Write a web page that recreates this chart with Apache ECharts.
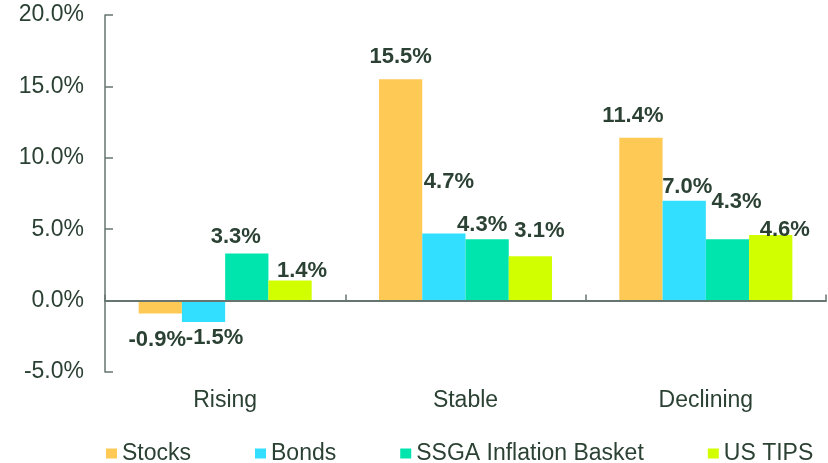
<!DOCTYPE html>
<html>
<head>
<meta charset="utf-8">
<script src="https://cdn.jsdelivr.net/npm/echarts@6/dist/echarts.min.js"></script>
<style>
    html, body { margin: 0; padding: 0; background: #fff; }
    #main { width: 828px; height: 463px; }
</style>
</head>
<body>
<div id="main"></div>
<script type="text/javascript">
    var categories = ['Rising', 'Stable', 'Declining'];
    var seriesNames = ['Stocks', 'Bonds', 'SSGA Inflation Basket', 'US TIPS'];
    var stocks = [-0.9, 15.5, 11.4];
    var bonds = [-1.5, 4.7, 7.0];
    var ssga = [3.3, 4.3, 4.3];
    var tips = [1.4, 3.1, 4.6];

    // label nudges copied from the hand-placed labels in the original
    var labelNudge = [
        [[-3, 10], [0, -6], [-8, -6]],
        [[11, 0], [5, -36], [3, 2]],
        [[-11, -1], [-5, 2], [9, -21]],
        [[12, 6], [9, -9], [14, 11]]
    ];

    var color = ['#FFC956', '#33DFFF', '#00E5AE', '#D2FF00'];
    var textColor = '#2B4133';
    var lineColor = '#66756F';
    var font = "'Liberation Sans', Arial, sans-serif";

    var myChart = echarts.init(document.getElementById('main'));

    var series = [];
    [stocks, bonds, ssga, tips].forEach(function (values, i) {
        series.push({
            name: seriesNames[i],
            type: 'bar',
            barGap: '0%',
            barCategoryGap: '28%',
            itemStyle: { color: color[i] },
            label: {
                show: true,
                fontFamily: font,
                fontSize: 22,
                fontWeight: 'bold',
                color: textColor,
                formatter: function (p) { return p.value.toFixed(1) + '%'; }
            },
            data: values.map(function (v, j) {
                return {
                    value: v,
                    label: {
                        position: v < 0 ? 'bottom' : 'top',
                        offset: labelNudge[i][j]
                    }
                };
            })
        });
    });

    var option = {
        backgroundColor: '#fff',
        animation: false,
        textStyle: { fontFamily: font },
        grid: { left: 105, right: 2, top: 15, bottom: 91 },
        legend: {
            left: 101,
            top: 437,
            itemWidth: 11,
            itemHeight: 10,
            itemGap: 64,
            icon: 'rect',
            textStyle: { fontFamily: font, fontSize: 23, color: textColor },
            data: seriesNames
        },
        xAxis: [
            {
                type: 'category',
                data: categories,
                position: 'bottom',
                axisLine: { show: false, onZero: false },
                axisTick: { show: false },
                axisLabel: { fontFamily: font, fontSize: 23, color: textColor, margin: 17 }
            },
            {
                type: 'category',
                data: categories,
                position: 'top',
                z: 5,
                axisLine: { onZero: true, lineStyle: { color: lineColor, width: 2 } },
                axisTick: { show: true, inside: false, length: 6, lineStyle: { color: lineColor, width: 1.5 } },
                axisLabel: { show: false }
            }
        ],
        yAxis: {
            type: 'value',
            min: -5,
            max: 20,
            interval: 5,
            axisLine: { show: true, lineStyle: { color: lineColor, width: 1.5 } },
            axisTick: { show: true, inside: true, length: 8, lineStyle: { color: lineColor, width: 1.5 } },
            splitLine: { show: false },
            axisLabel: {
                fontFamily: font,
                fontSize: 23,
                color: textColor,
                margin: 21,
                formatter: function (v) { return v.toFixed(1) + '%'; }
            }
        },
        series: series
    };
    myChart.setOption(option);
</script>
</body>
</html>
